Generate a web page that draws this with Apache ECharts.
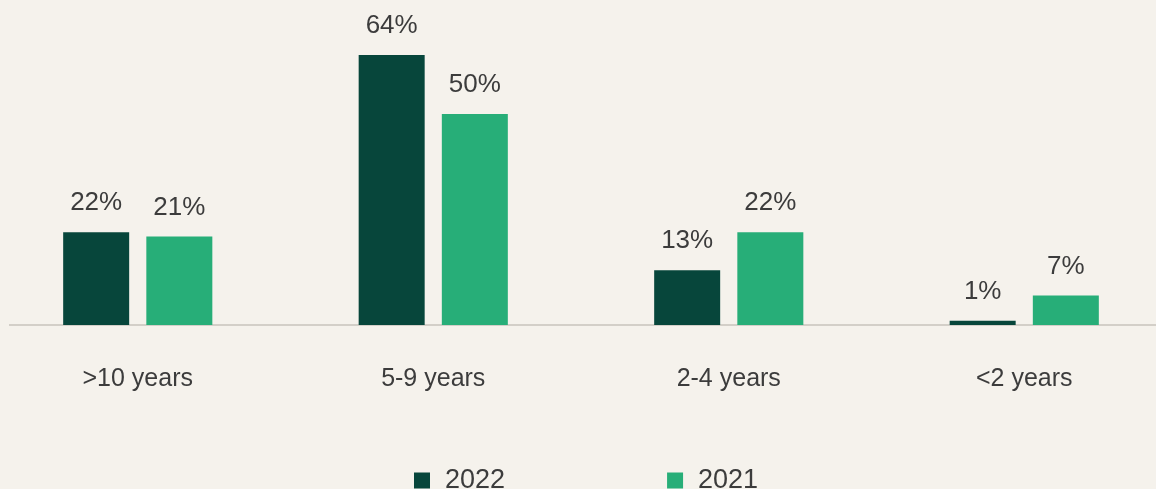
<!DOCTYPE html>
<html>
<head>
<meta charset="utf-8">
<style>
  html, body { margin: 0; padding: 0; background: #f5f2ec; }
  #chart { width: 1156px; height: 489px; }
</style>
<script src="https://cdn.jsdelivr.net/npm/echarts@6/dist/echarts.min.js"></script>
</head>
<body>
<div id="chart"></div>
<script>
// Share of respondents by tenure band, two survey years
const categories = ['>10 years', '5-9 years', '2-4 years', '<2 years'];
const values2022 = [22, 64, 13, 1];
const values2021 = [21, 50, 22, 7];
const seriesNames = ['2022', '2021'];

const FONT = '"Liberation Sans", Arial, sans-serif';
const TEXT = '#3c3c3c';
const DARK = '#07463b';
const LIGHT = '#27ae78';

const chart = echarts.init(document.getElementById('chart'));

const labelStyle = {
  show: true,
  position: 'top',
  distance: 16,
  formatter: p => p.value + '%',
  color: TEXT,
  fontFamily: FONT,
  fontSize: 26
};

chart.setOption({
  backgroundColor: '#f5f2ec',
  animation: false,
  grid: {
    left: -10, width: 1182, top: 55, bottom: 164,
    containLabel: false, outerBoundsMode: 'none'
  },
  legend: {
    data: seriesNames,
    left: 409,
    top: 462,
    icon: 'rect',
    itemWidth: 16,
    itemHeight: 16,
    itemGap: 162,
    textStyle: { color: TEXT, fontFamily: FONT, fontSize: 27, padding: [0, 0, 0, 10] }
  },
  xAxis: {
    type: 'category',
    data: categories,
    axisLine: { show: false },
    axisTick: { show: false },
    axisLabel: { color: TEXT, fontFamily: FONT, fontSize: 25, margin: 42 }
  },
  yAxis: {
    type: 'value',
    min: 0,
    max: 64,
    show: false,
    splitLine: { show: false }
  },
  series: [
    {
      name: seriesNames[0],
      type: 'bar',
      data: values2022,
      barWidth: 66,
      barGap: '26%',
      itemStyle: { color: DARK },
      label: labelStyle
    },
    {
      name: seriesNames[1],
      type: 'bar',
      data: values2021,
      barWidth: 66,
      itemStyle: { color: LIGHT },
      label: labelStyle
    }
  ]
});

// Baseline rule: placed at the value-axis zero, running to the right edge
const baseY = chart.convertToPixel({ yAxisIndex: 0 }, 0);
chart.setOption({
  graphic: [{
    type: 'line',
    shape: { x1: 9, y1: baseY, x2: chart.getWidth(), y2: baseY },
    style: { stroke: '#d3cfc8', lineWidth: 2 },
    z: 0
  }]
});
</script>
</body>
</html>
